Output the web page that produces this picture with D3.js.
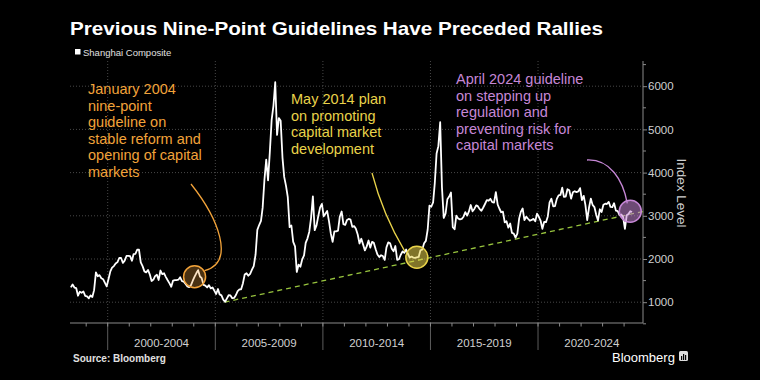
<!DOCTYPE html>
<html><head><meta charset="utf-8">
<script src="https://cdn.jsdelivr.net/npm/d3@7"></script>
<style>html,body{margin:0;background:#000;}svg{display:block}</style>
</head><body><svg id="c" width="760" height="380"></svg>
<script>
// ---------- DATA ----------
const seriesName = "Shanghai Composite";
const firstMonth = "1998-04"; // one value per month from here
const closes = [
  // 1998 Apr-Dec
  1343,1411,1339,1328,1150,1242,1218,1247,1147,
  // 1999
  1134,1090,1158,1120,1279,1689,1601,1627,1556,1532,1446,1367,
  // 2000
  1535,1714,1800,1836,1895,1928,2023,2024,1910,1961,2070,2073,
  // 2001
  2065,1959,2112,2119,2214,2218,1920,1834,1713,1690,1747,1646,
  // 2002
  1491,1524,1603,1636,1515,1733,1651,1669,1581,1507,1435,1357,
  // 2003
  1500,1511,1510,1521,1577,1487,1477,1421,1367,1349,1397,1497,
  // 2004
  1590,1675,1742,1595,1555,1400,1386,1342,1396,1320,1341,1267,
  // 2005
  1191,1306,1181,1159,1060,1010,1083,1162,1155,1092,1099,1161,
  // 2006
  1258,1299,1298,1440,1641,1672,1612,1658,1752,1837,2099,2675,
  // 2007
  2786,2881,3183,3841,4300,3820,4471,5218,5552,6092,4871,5262,
  // 2008
  5200,4348,3900,3693,3433,2736,2775,2397,2293,1700,1871,1821,
  // 2009
  1991,2082,2373,2478,2633,2959,3450,2667,2779,2996,3195,3277,
  // 2010
  2989,3051,3110,2870,2592,2398,2638,2639,2656,2979,3100,2808,
  // 2011
  2790,2905,2928,2911,2743,2762,2701,2568,2359,2469,2333,2199,
  // 2012
  2292,2428,2263,2397,2373,2225,2103,2047,2086,2069,1980,2269,
  // 2013
  2385,2365,2237,2178,2301,1979,1994,2098,2175,2141,2220,2116,
  // 2014
  2033,2056,2033,2026,2039,2048,2202,2217,2364,2420,2683,3235,
  // 2015
  3210,3310,3748,4441,4612,5166,3664,2950,3053,3383,3445,3539,
  // 2016
  2738,2688,3004,2938,2917,2930,2979,3085,3005,3100,3250,3104,
  // 2017
  3159,3242,3223,3155,3117,3192,3273,3361,3349,3393,3317,3307,
  // 2018
  3550,3259,3169,3082,3095,2847,2876,2725,2821,2603,2588,2494,
  // 2019
  2585,2941,3091,3170,2899,2979,2932,2886,2905,2929,2872,3050,
  // 2020
  2977,2880,2700,2860,2852,2985,3310,3396,3218,3225,3392,3473,
  // 2021
  3483,3650,3441,3447,3615,3591,3397,3544,3568,3547,3564,3640,
  // 2022
  3361,3462,3252,2900,3186,3399,3253,3202,3024,2893,3151,3089,
  // 2023
  3255,3280,3273,3323,3205,3202,3291,3120,3110,3018,3030,2975,
  // 2024 Jan-May
  2700,3015,3041,3105,3087
];
const yTicks = [1000,2000,3000,4000,5000,6000];
const periodStarts = [2000,2005,2010,2015,2020];
const periodLabels = ["2000-2004","2005-2009","2010-2014","2015-2019","2020-2024"];
const trendDates = ["2005-06-06","2024-11-17"];
const trendValues = [1000,3100];
const eventMonths = ["2004-01","2014-05","2024-04"];
const eventColors = ["#f2a33a","#e9d34a","#c687d6"];
const eventTexts = [
  ["January 2004","nine-point","guideline on","stable reform and","opening of capital","markets"],
  ["May 2014 plan","on promoting","capital market","development"],
  ["April 2024 guideline","on stepping up","regulation and","preventing risk for","capital markets"]
];

// ---------- BUILD ----------
const parseM = d3.timeParse("%Y-%m");
const m0 = parseM(firstMonth);
const data = closes.map((v,i)=>({date:new Date(m0.getFullYear(), m0.getMonth()+i, 15), value:v}));

const svg = d3.select("#c");
svg.append("rect").attr("width",760).attr("height",380).attr("fill","#000");

const x = d3.scaleTime().domain([new Date(1998,3,1), new Date(2024,10,17)]).range([70,643]);
const y = d3.scaleLinear().domain([1000,6000]).range([302.2,86.2]);
const plotTop = 61, plotBottom = 323, plotLeft = 70, plotRight = 643;
const FONT = "Liberation Sans, Arial, sans-serif";

// grid
const g = svg.append("g");
g.selectAll(".hg").data(yTicks).join("line")
  .attr("x1",plotLeft).attr("x2",plotRight).attr("y1",d=>y(d)).attr("y2",d=>y(d))
  .attr("stroke","#5a5a5a").attr("stroke-width",0.8).attr("stroke-dasharray","1,2");
g.selectAll(".vg").data(periodStarts).join("line")
  .attr("x1",d=>x(new Date(d,0,1))).attr("x2",d=>x(new Date(d,0,1)))
  .attr("y1",plotTop).attr("y2",plotBottom)
  .attr("stroke","#5a5a5a").attr("stroke-width",0.8).attr("stroke-dasharray","1,2");
g.selectAll(".vs").data(periodStarts).join("line")
  .attr("x1",d=>x(new Date(d,0,1))).attr("x2",d=>x(new Date(d,0,1)))
  .attr("y1",plotBottom).attr("y2",350)
  .attr("stroke","#666").attr("stroke-width",0.9);

// x axis
svg.append("line").attr("x1",plotLeft).attr("x2",plotRight).attr("y1",plotBottom).attr("y2",plotBottom)
  .attr("stroke","#8a8a8a").attr("stroke-width",1);
const years = d3.timeYear.range(new Date(1999,0,1), new Date(2025,0,1));
svg.selectAll(".xt").data(years).join("line")
  .attr("x1",d=>x(d)).attr("x2",d=>x(d)).attr("y1",plotBottom).attr("y2",plotBottom+3.5)
  .attr("stroke","#8a8a8a").attr("stroke-width",1);
svg.selectAll(".xl").data(periodLabels).join("text")
  .attr("x",(d,i)=>(x(new Date(periodStarts[i],0,1))+x(new Date(periodStarts[i]+5,0,1)))/2)
  .attr("y",347).attr("text-anchor","middle")
  .attr("font-family",FONT).attr("font-size",11.5)
  .attr("fill","#d0d0d0").text(d=>d);

// y axis (right)
const yAxis = d3.axisRight(y).tickValues(yTicks).tickSize(4).tickFormat(d3.format("d"));
const ya = svg.append("g").attr("transform",`translate(${plotRight},0)`).call(yAxis);
ya.select(".domain").remove();
ya.selectAll(".tick line").attr("stroke","#8a8a8a");
ya.selectAll(".tick text").attr("fill","#d0d0d0").attr("x",5)
  .attr("font-family",FONT).attr("font-size",11.5);
svg.append("line").attr("x1",plotRight).attr("x2",plotRight).attr("y1",plotTop).attr("y2",plotBottom)
  .attr("stroke","#8a8a8a").attr("stroke-width",1);
const minorY = d3.range(500,6600,500).filter(v=>v%1000!==0);
svg.selectAll(".ym").data(minorY).join("line")
  .attr("x1",plotRight).attr("x2",plotRight+3).attr("y1",d=>y(d)).attr("y2",d=>y(d))
  .attr("stroke","#8a8a8a");
svg.append("text").attr("transform","translate(677,193) rotate(90)")
  .attr("text-anchor","middle").attr("font-family",FONT)
  .attr("font-size",13.5).attr("fill","#d0d0d0").text("Index Level");

// trend line
svg.append("line")
  .attr("x1",x(new Date(trendDates[0]))).attr("y1",y(trendValues[0]))
  .attr("x2",x(new Date(trendDates[1]))).attr("y2",y(trendValues[1]))
  .attr("stroke","#98c43e").attr("stroke-width",1.3).attr("stroke-dasharray","5,4");

// series line
const line = d3.line().x(d=>x(d.date)).y(d=>y(d.value));
svg.append("path").datum(data).attr("d",line).attr("fill","none")
  .attr("stroke","#fff").attr("stroke-width",1.8).attr("stroke-linejoin","round");

// event circles
const evPts = eventMonths.map(m=>{
  const d = parseM(m);
  const pt = data.find(p=>p.date.getFullYear()===d.getFullYear() && p.date.getMonth()===d.getMonth());
  return {cx:x(pt.date), cy:y(pt.value)};
});
const fillOp = [0.3,0.55,0.55];
evPts.forEach((p,i)=>{
  svg.append("circle").attr("cx",p.cx).attr("cy",p.cy).attr("r",11)
    .attr("fill",eventColors[i]).attr("fill-opacity",fillOp[i])
    .attr("stroke",eventColors[i]).attr("stroke-width",1.5);
});

// annotation texts
const textPos = [[88,94],[291,104],[456,84]];
eventTexts.forEach((lines,i)=>{
  const t = svg.append("text").attr("font-family",FONT)
    .attr("font-size",14.5).attr("fill",eventColors[i]);
  lines.forEach((s,j)=>t.append("tspan").attr("x",textPos[i][0]).attr("y",textPos[i][1]+j*16.6).text(s));
});

// annotation connectors
const p0 = evPts[0], p1 = evPts[1], p2 = evPts[2];
const conn = [
  `M191,184 C218,218 236,262 ${p0.cx+10},${p0.cy-6}`,
  `M372,173 Q383,215 ${p1.cx-12},${p1.cy-6}`,
  `M587,160 C610,159 623,180 ${p2.cx-3},${p2.cy-8}`
];
conn.forEach((d,i)=>svg.append("path").attr("d",d).attr("fill","none")
  .attr("stroke",eventColors[i]).attr("stroke-width",1.3));

// title, legend, footer
svg.append("text").attr("x",70).attr("y",35).attr("font-family",FONT)
  .attr("font-weight","bold").attr("font-size",19).attr("fill","#fff")
  .attr("textLength",533).attr("lengthAdjust","spacingAndGlyphs")
  .text("Previous Nine-Point Guidelines Have Preceded Rallies");
svg.append("rect").attr("x",75).attr("y",49).attr("width",5.5).attr("height",5.5).attr("fill","#fff");
svg.append("text").attr("x",83).attr("y",55.5).attr("font-family",FONT)
  .attr("font-size",9.5).attr("fill","#e0e0e0").text(seriesName);
svg.append("text").attr("x",73).attr("y",362).attr("font-family",FONT)
  .attr("font-weight","bold").attr("font-size",10).attr("fill","#e0e0e0").text("Source: Bloomberg");
svg.append("text").attr("x",612).attr("y",362).attr("font-family",FONT)
  .attr("font-size",13).attr("fill","#fff").text("Bloomberg");
svg.append("rect").attr("x",679).attr("y",351).attr("width",9).attr("height",10).attr("rx",1.5).attr("fill","#ddd");
[[681,356,4],[683,354,6],[685,355,5]].forEach(b=>svg.append("rect").attr("x",b[0]).attr("y",b[1])
  .attr("width",1.2).attr("height",b[2]).attr("fill","#000"));
</script></body></html>
